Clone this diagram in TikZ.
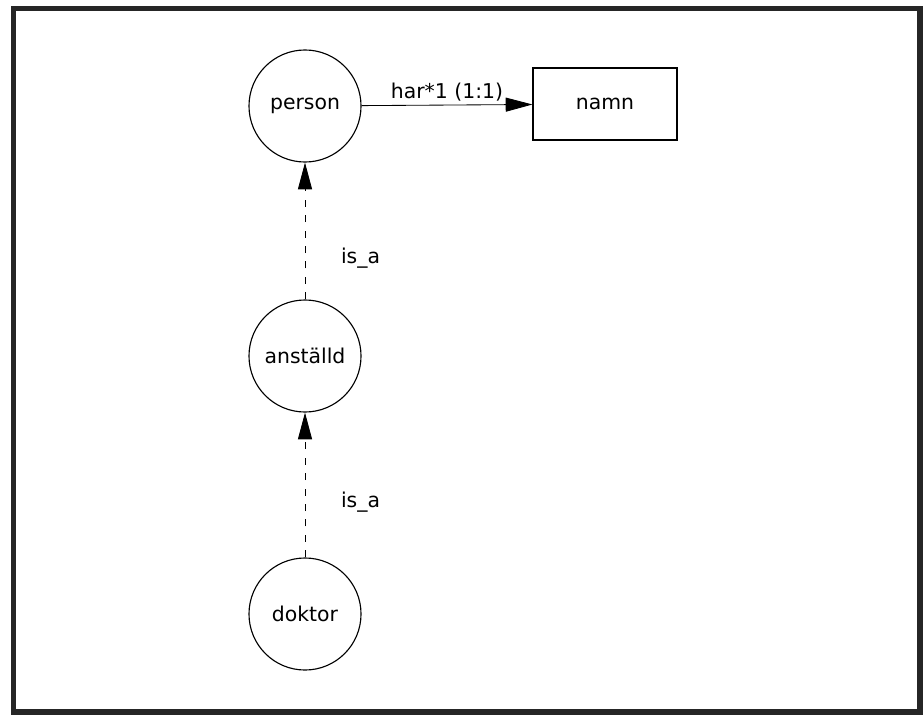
\documentclass[tikz,border=0pt]{standalone}
\usepackage{fontspec}
\setsansfont{DejaVu Sans}
\usetikzlibrary{arrows.meta, positioning}

\begin{document}
\begin{tikzpicture}[
    x=0.025cm, y=-0.025cm,
    >={Triangle[length=19pt, width=10pt]},
    font=\sffamily\fontsize{14.5}{17}\selectfont,
    entity/.style={circle, draw, thick, minimum size=2.8cm, inner sep=0pt},
    attribute/.style={rectangle, draw, thick, minimum width=3.6cm, minimum height=1.8cm},
    isa edge/.style={->, semithick, dash pattern=on 5pt off 6pt},
    has edge/.style={->, semithick}
]
    \useasboundingbox (0,0) rectangle (924,716);

    % outer frame
    \draw[line width=3.6pt, black!85] (13.5,8.5) rectangle (920,712);

    % Entities
    \node[entity] (person) at (305,106) {person};
    \node[entity] (anstalld) at (305,356) {anställd};
    \node[entity] (doktor) at (305,614) {doktor};

    % Attribute
    \node[attribute] (namn) at (605,104) {namn};

    % Relations
    \draw[has edge] (person) -- node[above=-1pt] {har*1 (1:1)} (namn);
    \draw[isa edge] (anstalld) -- node[right=22pt, pos=0.3] {is\_a} (person);
    \draw[isa edge] (doktor) -- node[right=22pt, pos=0.38] {is\_a} (anstalld);
\end{tikzpicture}
\end{document}
